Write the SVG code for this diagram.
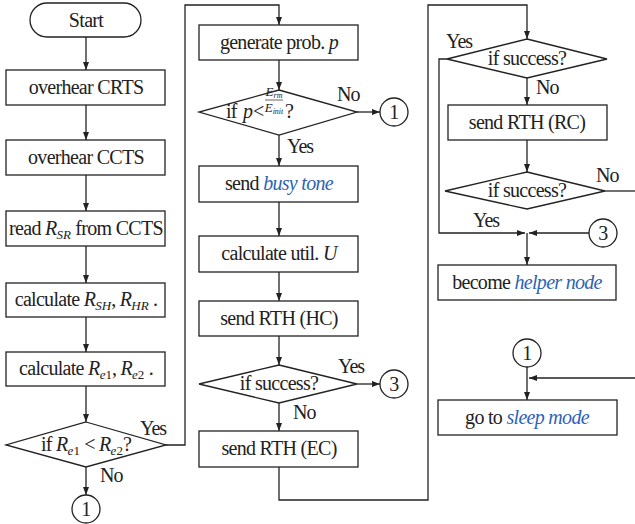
<svg xmlns="http://www.w3.org/2000/svg" width="635" height="524" viewBox="0 0 635 524">
<defs>
<marker id="ah" markerWidth="8" markerHeight="6" refX="8" refY="3" orient="auto" markerUnits="userSpaceOnUse">
<path d="M0,0 L8,3 L0,6 z" fill="#222"/>
</marker>
<style>
.s{fill:#fff;stroke:#222;stroke-width:1.3}
.c{fill:none;stroke:#222;stroke-width:1.3}
.a{fill:none;stroke:#222;stroke-width:1.3;marker-end:url(#ah)}
text{font-family:Liberation Serif, serif;font-size:20px;fill:#222;letter-spacing:-0.7px}
.m{text-anchor:middle}
.l{letter-spacing:-1px}
.i{font-style:italic}
.sub{font-size:13px;letter-spacing:0}
.b{fill:#2e62b5;font-style:italic}
.f{font-size:13px;font-style:italic;letter-spacing:0}
.fs{font-size:8px}
</style>
</defs>
<rect width="635" height="524" fill="#fff"/>
<g id="connectors">
<path class="a" d="M86,37 V70"/>
<path class="a" d="M86,105 V140"/>
<path class="a" d="M86,175 V211"/>
<path class="a" d="M86,246 V283"/>
<path class="a" d="M86,317 V352"/>
<path class="a" d="M86,386 V422"/>
<path class="a" d="M86,467 V495"/>
<path class="a" d="M166,445 H185 V5 H279 V25"/>
<path class="a" d="M279,60 V90"/>
<path class="a" d="M357,112 H380"/>
<path class="a" d="M279,135 V166"/>
<path class="a" d="M279,202 V236"/>
<path class="a" d="M279,272 V301"/>
<path class="a" d="M279,336 V365"/>
<path class="a" d="M357,384 H380"/>
<path class="a" d="M279,403 V431"/>
<path class="a" d="M279,467 V500 H428 V5 H527 V39"/>
<path class="a" d="M527,78 V105"/>
<path class="a" d="M527,140 V172"/>
<path class="c" d="M605,191 H635"/>
<path class="a" d="M447,59 H439 V233 H525"/>
<path class="a" d="M589,233 H529"/>
<path class="a" d="M527,233 V265"/>
<path class="a" d="M527,367 V400"/>
<path class="a" d="M635,378 H529"/>
<text class="l" x="140" y="435">Yes</text>
<text class="l" x="100" y="482">No</text>
<text class="l" x="337" y="101">No</text>
<text class="l" x="287" y="153">Yes</text>
<text class="l" x="338" y="373">Yes</text>
<text class="l" x="293" y="419">No</text>
<text class="l" x="446" y="48">Yes</text>
<text class="l" x="536" y="94">No</text>
<text class="l" x="596" y="182">No</text>
<text class="l" x="473" y="227">Yes</text>
</g>

<g id="start">
<rect class="s" x="30" y="3" width="111" height="34" rx="17"/>
<text class="m" x="86" y="27">Start</text>
</g>
<g id="overhear-crts">
<rect class="s" x="6" y="70" width="159" height="35"/>
<text class="m" x="86" y="94">overhear CRTS</text>
</g>
<g id="overhear-ccts">
<rect class="s" x="6" y="140" width="159" height="35"/>
<text class="m" x="86" y="164">overhear CCTS</text>
</g>
<g id="read-rsr">
<rect class="s" x="6" y="211" width="159" height="35"/>
<text class="m" x="86" y="235">read <tspan class="i">R</tspan><tspan class="i sub" dy="4">SR</tspan><tspan dy="-4"> from CCTS</tspan></text>
</g>
<g id="calc-rsh">
<rect class="s" x="6" y="283" width="159" height="34"/>
<text class="m" x="86" y="306">calculate <tspan class="i">R</tspan><tspan class="i sub" dy="4">SH</tspan><tspan dy="-4">, </tspan><tspan class="i">R</tspan><tspan class="i sub" dy="4">HR</tspan><tspan dy="-4"> .</tspan></text>
</g>
<g id="calc-re">
<rect class="s" x="6" y="352" width="159" height="34"/>
<text class="m" x="86" y="375">calculate <tspan class="i">R</tspan><tspan class="sub" dy="4"><tspan class="i">e</tspan>1</tspan><tspan dy="-4">, </tspan><tspan class="i">R</tspan><tspan class="sub" dy="4"><tspan class="i">e</tspan>2</tspan><tspan dy="-4"> .</tspan></text>
</g>
<g id="if-re">
<polygon class="s" points="86,422 166,445 86,467 6,445"/>
<text class="m" x="86" y="451">if <tspan class="i">R</tspan><tspan class="sub" dy="4"><tspan class="i">e</tspan>1</tspan><tspan dy="-4"> &lt; </tspan><tspan class="i">R</tspan><tspan class="sub" dy="4"><tspan class="i">e</tspan>2</tspan><tspan dy="-4">?</tspan></text>
</g>
<g id="conn1-left">
<circle class="s" cx="86" cy="509" r="14"/>
<text class="m" x="86" y="516">1</text>
</g>

<g id="gen-prob">
<rect class="s" x="199" y="25" width="159" height="35"/>
<text class="m" x="279" y="49">generate prob. <tspan class="i">p</tspan></text>
</g>
<g id="if-p">
<polygon class="s" points="279,90 357,112 279,135 199,112"/>
<text x="226" y="118">if</text>
<text class="i" x="243" y="118">p</text>
<text x="253" y="118">&lt;</text>
<line x1="265" y1="100" x2="283" y2="100" stroke="#222" stroke-width="0.7"/>
<text class="m f" x="274" y="96">E<tspan class="fs" dy="2">rm</tspan></text>
<text class="m f" x="274" y="112">E<tspan class="fs" dy="2">init</tspan></text>
<text x="285" y="118">?</text>
</g>
<g id="conn1-mid">
<circle class="s" cx="394" cy="112" r="14"/>
<text class="m" x="394" y="119">1</text>
</g>
<g id="busy-tone">
<rect class="s" x="199" y="166" width="159" height="36"/>
<text class="m" x="279" y="190">send <tspan class="b">busy tone</tspan></text>
</g>
<g id="calc-util">
<rect class="s" x="199" y="236" width="159" height="36"/>
<text class="m" x="279" y="260">calculate util. <tspan class="i">U</tspan></text>
</g>
<g id="rth-hc">
<rect class="s" x="199" y="301" width="159" height="35"/>
<text class="m" x="279" y="325">send RTH (HC)</text>
</g>
<g id="if-success-1">
<polygon class="s" points="279,365 357,384 279,403 199,384"/>
<text class="m" x="279" y="390">if success?</text>
</g>
<g id="conn3-mid">
<circle class="s" cx="394" cy="384" r="14"/>
<text class="m" x="394" y="391">3</text>
</g>
<g id="rth-ec">
<rect class="s" x="199" y="431" width="159" height="36"/>
<text class="m" x="279" y="455">send RTH (EC)</text>
</g>

<g id="if-success-2">
<polygon class="s" points="527,39 607,59 527,78 447,59"/>
<text class="m" x="527" y="65">if success?</text>
</g>
<g id="rth-rc">
<rect class="s" x="448" y="105" width="159" height="35"/>
<text class="m" x="527" y="129">send RTH (RC)</text>
</g>
<g id="if-success-3">
<polygon class="s" points="527,172 605,191 527,209 445,191"/>
<text class="m" x="527" y="197">if success?</text>
</g>
<g id="conn3-right">
<circle class="s" cx="603" cy="233" r="14"/>
<text class="m" x="603" y="240">3</text>
</g>
<g id="helper-node">
<rect class="s" x="438" y="265" width="178" height="35"/>
<text class="m" x="527" y="289">become <tspan class="b">helper node</tspan></text>
</g>
<g id="conn1-right">
<circle class="s" cx="527" cy="353" r="14"/>
<text class="m" x="527" y="360">1</text>
</g>
<g id="sleep-mode">
<rect class="s" x="438" y="400" width="179" height="35"/>
<text class="m" x="527" y="424">go to <tspan class="b">sleep mode</tspan></text>
</g>
</svg>
